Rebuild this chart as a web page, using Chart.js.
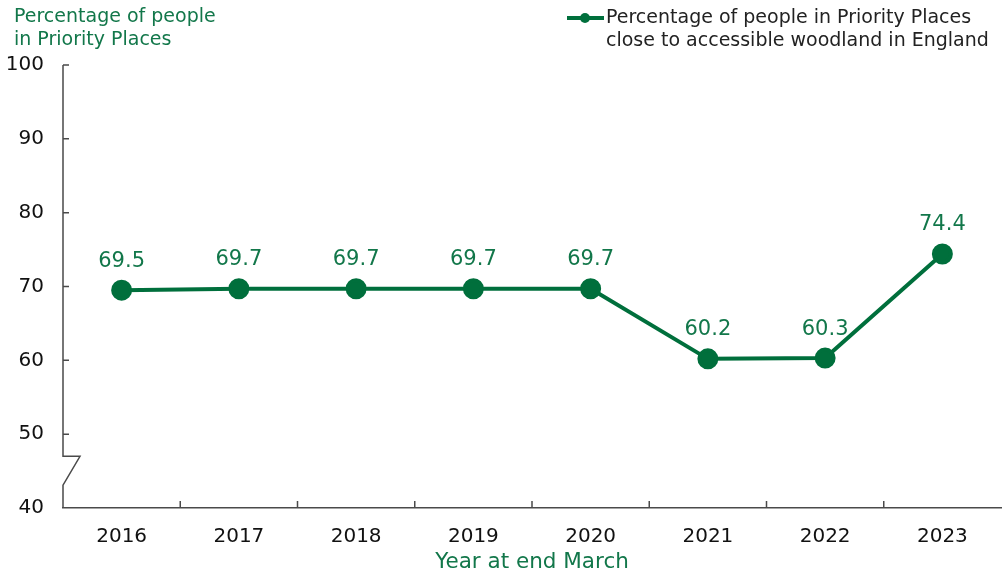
<!DOCTYPE html>
<html>
<head>
<meta charset="utf-8">
<script src="https://cdn.jsdelivr.net/npm/chart.js@4.4.1/dist/chart.umd.min.js"></script>
<style>
  html, body { margin: 0; padding: 0; background: #fff; }
  #wrap { width: 1002px; height: 575px; position: relative; }
</style>
</head>
<body>
<div id="wrap"><canvas id="c" width="1002" height="575"></canvas></div>
<script>
// Data
const years = ['2016', '2017', '2018', '2019', '2020', '2021', '2022', '2023'];
const woodlandAccess = [69.5, 69.7, 69.7, 69.7, 69.7, 60.2, 60.3, 74.4];
const yTicks = [40, 50, 60, 70, 80, 90, 100];
const seriesLabel = ['Percentage of people in Priority Places', 'close to accessible woodland in England'];
const yTitle = ['Percentage of people', 'in Priority Places'];
const xTitle = 'Year at end March';

const GREEN = '#006F3C';
const TEXT_GREEN = '#12774A';
const AXIS = '#4a4a4a';
const FONT = '"DejaVu Sans", Verdana, sans-serif';

// Decorations: axis with break, inside tick marks, value labels, legend, y title
const decor = {
  id: 'decor',
  afterDraw(chart) {
    const ctx = chart.ctx;
    const x = chart.scales.x, y = chart.scales.y;
    const area = chart.chartArea;
    ctx.save();

    // y axis line with a zig-zag break between 40 and 50
    ctx.strokeStyle = AXIS;
    ctx.lineWidth = 1.5;
    ctx.beginPath();
    const bx = area.left;
    ctx.moveTo(bx, y.getPixelForValue(40));
    ctx.lineTo(bx, y.getPixelForValue(43.1));
    ctx.lineTo(bx + 17, y.getPixelForValue(47.0));
    ctx.lineTo(bx, y.getPixelForValue(47.0));
    ctx.lineTo(bx, y.getPixelForValue(100));
    ctx.stroke();

    // y tick marks pointing inward
    ctx.beginPath();
    yTicks.forEach(v => {
      if (v === 40) return;
      const py = y.getPixelForValue(v);
      ctx.moveTo(bx, py);
      ctx.lineTo(bx + 6, py);
    });
    // x tick marks between categories pointing upward
    for (let i = 1; i < years.length; i++) {
      const px = (x.getPixelForValue(i - 1) + x.getPixelForValue(i)) / 2;
      ctx.moveTo(px, area.bottom);
      ctx.lineTo(px, area.bottom - 7);
    }
    ctx.stroke();

    // value labels above points
    const meta = chart.getDatasetMeta(0);
    ctx.fillStyle = TEXT_GREEN;
    ctx.font = '21px ' + FONT;
    ctx.textAlign = 'center';
    ctx.textBaseline = 'middle';
    meta.data.forEach((pt, i) => {
      ctx.fillText(woodlandAccess[i].toFixed(1), pt.x, pt.y - 29);
    });

    // y axis title (top left)
    ctx.font = '19px ' + FONT;
    ctx.textAlign = 'left';
    ctx.fillText(yTitle[0], 14, 17);
    ctx.fillText(yTitle[1], 14, 40);

    // legend (top right)
    ctx.strokeStyle = GREEN;
    ctx.lineWidth = 4;
    ctx.beginPath();
    ctx.moveTo(567, 18);
    ctx.lineTo(604, 18);
    ctx.stroke();
    ctx.fillStyle = GREEN;
    ctx.beginPath();
    ctx.arc(585, 18, 5, 0, Math.PI * 2);
    ctx.fill();
    ctx.fillStyle = '#222222';
    ctx.fillText(seriesLabel[0], 606, 18);
    ctx.fillText(seriesLabel[1], 606, 41);

    ctx.restore();
  }
};

new Chart(document.getElementById('c'), {
  type: 'line',
  data: {
    labels: years,
    datasets: [{
      label: seriesLabel.join(' '),
      data: woodlandAccess,
      borderColor: GREEN,
      backgroundColor: GREEN,
      borderWidth: 4,
      pointRadius: 8.5,
      pointHoverRadius: 8.5,
      pointBackgroundColor: GREEN,
      pointBorderColor: GREEN,
      tension: 0
    }]
  },
  options: {
    responsive: false,
    animation: false,
    devicePixelRatio: 1,
    layout: { autoPadding: false, padding: { top: 65, right: 1, left: 0, bottom: 0 } },
    plugins: { legend: { display: false }, tooltip: { enabled: false } },
    scales: {
      x: {
        offset: true,
        grid: { display: false, drawTicks: false },
        border: { display: true, color: AXIS, width: 1.5 },
        ticks: { color: '#111', font: { family: FONT, size: 20 }, padding: 17 },
        title: { display: true, text: xTitle, color: TEXT_GREEN, font: { family: FONT, size: 21.5 }, padding: { top: 2, bottom: 0 } },
        afterFit(s) { s.height = 67; }
      },
      y: {
        min: 40, max: 100,
        afterBuildTicks(s) { s.ticks = yTicks.map(v => ({ value: v })); },
        grid: { display: false, drawTicks: false },
        border: { display: false },
        ticks: { color: '#111', font: { family: FONT, size: 20 }, padding: 19 },
        afterFit(s) { s.width = 63; }
      }
    }
  },
  plugins: [decor]
});
</script>
</body>
</html>
